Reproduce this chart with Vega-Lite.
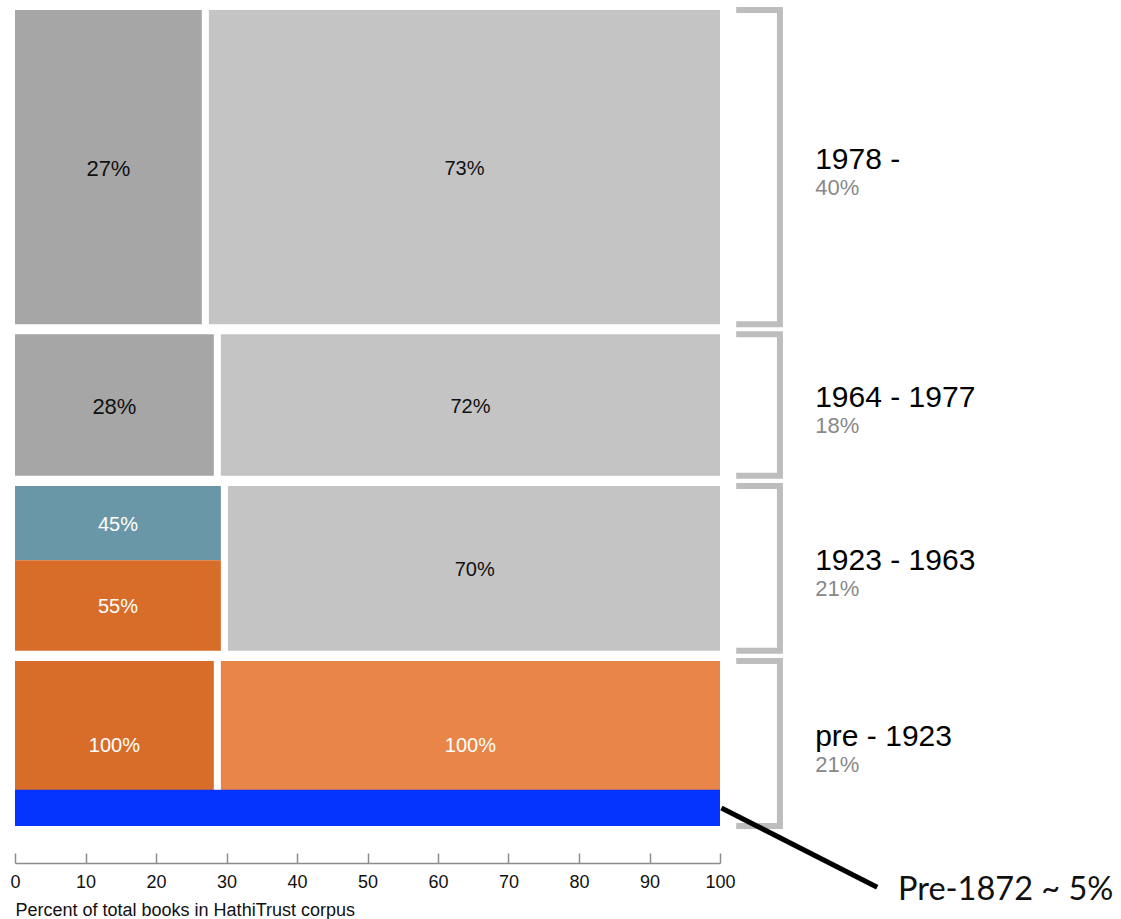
{
  "$schema": "https://vega.github.io/schema/vega-lite/v6.json",
  "autosize": "none",
  "padding": {"left": 15, "top": 10, "right": 401, "bottom": 93},
  "width": 705,
  "height": 816,
  "background": "white",
  "config": {"view": {"stroke": null}, "font": "Liberation Sans"},
  "datasets": {
    "cells": [
      {"period": "1978 -", "kind": "in copyright A", "x0": 0, "x1": 26.5, "y0": 63.9, "y1": 103.9, "label": "27%", "lx": 13.25, "ly": 83.9},
      {"period": "1978 -", "kind": "in copyright B", "x0": 27.5, "x1": 100, "y0": 63.9, "y1": 103.9, "label": "73%", "lx": 63.75, "ly": 83.9},
      {"period": "1964 - 1977", "kind": "in copyright A", "x0": 0, "x1": 28.2, "y0": 44.6, "y1": 62.6, "label": "28%", "lx": 14.1, "ly": 53.6},
      {"period": "1964 - 1977", "kind": "in copyright B", "x0": 29.2, "x1": 100, "y0": 44.6, "y1": 62.6, "label": "72%", "lx": 64.6, "ly": 53.6},
      {"period": "1923 - 1963", "kind": "not renewed", "x0": 0, "x1": 29.2, "y0": 33.85, "y1": 43.3, "label": "45%", "lx": 14.6, "ly": 38.6},
      {"period": "1923 - 1963", "kind": "public domain", "x0": 0, "x1": 29.2, "y0": 22.3, "y1": 33.85, "label": "55%", "lx": 14.6, "ly": 28.1},
      {"period": "1923 - 1963", "kind": "in copyright B", "x0": 30.2, "x1": 100, "y0": 22.3, "y1": 43.3, "label": "70%", "lx": 65.2, "ly": 32.8},
      {"period": "pre - 1923", "kind": "public domain", "x0": 0, "x1": 28.2, "y0": 0, "y1": 21, "label": "100%", "lx": 14.1, "ly": 10.5},
      {"period": "pre - 1923", "kind": "public domain B", "x0": 29.2, "x1": 100, "y0": 0, "y1": 21, "label": "100%", "lx": 64.6, "ly": 10.5},
      {"period": "pre - 1923", "kind": "pre-1872", "x0": 0, "x1": 100, "y0": 0, "y1": 4.6, "label": "", "lx": 50, "ly": 2.3}
    ],
    "periods": [
      {"period": "1978 -", "share": "40%", "ly": 83.9},
      {"period": "1964 - 1977", "share": "18%", "ly": 53.6},
      {"period": "1923 - 1963", "share": "21%", "ly": 32.8},
      {"period": "pre - 1923", "share": "21%", "ly": 10.5}
    ],
    "brackets": [
      {"period": "1978 -", "o": 1, "bx": 102.3, "by": 103.9},
      {"period": "1978 -", "o": 2, "bx": 108.5, "by": 103.9},
      {"period": "1978 -", "o": 3, "bx": 108.5, "by": 63.9},
      {"period": "1978 -", "o": 4, "bx": 102.3, "by": 63.9},
      {"period": "1964 - 1977", "o": 1, "bx": 102.3, "by": 62.6},
      {"period": "1964 - 1977", "o": 2, "bx": 108.5, "by": 62.6},
      {"period": "1964 - 1977", "o": 3, "bx": 108.5, "by": 44.6},
      {"period": "1964 - 1977", "o": 4, "bx": 102.3, "by": 44.6},
      {"period": "1923 - 1963", "o": 1, "bx": 102.3, "by": 43.3},
      {"period": "1923 - 1963", "o": 2, "bx": 108.5, "by": 43.3},
      {"period": "1923 - 1963", "o": 3, "bx": 108.5, "by": 22.3},
      {"period": "1923 - 1963", "o": 4, "bx": 102.3, "by": 22.3},
      {"period": "pre - 1923", "o": 1, "bx": 102.3, "by": 21},
      {"period": "pre - 1923", "o": 2, "bx": 108.5, "by": 21},
      {"period": "pre - 1923", "o": 3, "bx": 108.5, "by": 0},
      {"period": "pre - 1923", "o": 4, "bx": 102.3, "by": 0}
    ],
    "pointer": [
      {"o": 1, "px": 100.2, "py": 2.3},
      {"o": 2, "px": 122.3, "py": -7.8}
    ]
  },
  "layer": [
    {
      "data": {"name": "cells"},
      "mark": {"type": "rect"},
      "encoding": {
        "x": {"field": "x0", "type": "quantitative", "scale": {"domain": [0, 100], "nice": false},
          "axis": {
            "values": [0, 10, 20, 30, 40, 50, 60, 70, 80, 90, 100],
            "offset": 37, "grid": false,
            "domainColor": "#8c8c8c", "domainWidth": 1.5,
            "tickColor": "#8c8c8c", "tickWidth": 1.5, "tickSize": -10,
            "labelFont": "Liberation Sans", "labelFontSize": 18, "labelColor": "#111", "labelPadding": 20,
            "labelFlush": false,
            "title": "Percent of total books in HathiTrust corpus",
            "titleFont": "Liberation Sans", "titleFontSize": 18, "titleFontWeight": "normal", "titleColor": "#111",
            "titleAnchor": "start", "titleAlign": "left", "titleX": 0, "titleY": 52, "titleBaseline": "alphabetic"
          }},
        "x2": {"field": "x1"},
        "y": {"field": "y0", "type": "quantitative", "scale": {"domain": [0, 103.9], "nice": false}, "axis": null},
        "y2": {"field": "y1"},
        "color": {"field": "kind", "type": "nominal", "legend": null,
          "scale": {"domain": ["in copyright A", "in copyright B", "not renewed", "public domain", "public domain B", "pre-1872"],
            "range": ["#a6a6a6", "#c4c4c4", "#6a97a7", "#d86d2a", "#e98548", "#0433ff"]}}
      }
    },
    {
      "data": {"name": "cells"},
      "transform": [{"filter": "datum.kind === 'in copyright A'"}],
      "mark": {"type": "text", "font": "Liberation Sans", "fontSize": 22, "color": "#111", "baseline": "middle", "dy": 2},
      "encoding": {
        "x": {"field": "lx", "type": "quantitative"},
        "y": {"field": "ly", "type": "quantitative"},
        "text": {"field": "label"}
      }
    },
    {
      "data": {"name": "cells"},
      "transform": [{"filter": "datum.kind === 'in copyright B'"}],
      "mark": {"type": "text", "font": "Liberation Sans", "fontSize": 20, "color": "#111", "baseline": "middle", "dy": 2},
      "encoding": {
        "x": {"field": "lx", "type": "quantitative"},
        "y": {"field": "ly", "type": "quantitative"},
        "text": {"field": "label"}
      }
    },
    {
      "data": {"name": "cells"},
      "transform": [{"filter": "datum.kind !== 'in copyright A' && datum.kind !== 'in copyright B'"}],
      "mark": {"type": "text", "font": "Liberation Sans", "fontSize": 20, "color": "white", "baseline": "middle", "dy": 2},
      "encoding": {
        "x": {"field": "lx", "type": "quantitative"},
        "y": {"field": "ly", "type": "quantitative"},
        "text": {"field": "label"}
      }
    },
    {
      "data": {"name": "brackets"},
      "mark": {"type": "line", "color": "#bdbdbd", "strokeWidth": 6, "strokeJoin": "miter", "strokeCap": "butt"},
      "encoding": {
        "x": {"field": "bx", "type": "quantitative"},
        "y": {"field": "by", "type": "quantitative"},
        "detail": {"field": "period"},
        "order": {"field": "o"}
      }
    },
    {
      "data": {"name": "periods"},
      "mark": {"type": "text", "font": "Liberation Sans", "fontSize": 30, "color": "#000", "align": "left", "baseline": "alphabetic", "dy": 2},
      "encoding": {
        "x": {"datum": 113.5},
        "y": {"field": "ly", "type": "quantitative"},
        "text": {"field": "period"}
      }
    },
    {
      "data": {"name": "periods"},
      "mark": {"type": "text", "font": "Liberation Sans", "fontSize": 22, "color": "#888888", "align": "left", "baseline": "alphabetic", "dy": 28},
      "encoding": {
        "x": {"datum": 113.5},
        "y": {"field": "ly", "type": "quantitative"},
        "text": {"field": "share"}
      }
    },
    {
      "data": {"name": "pointer"},
      "mark": {"type": "line", "color": "#000", "strokeWidth": 5},
      "encoding": {
        "x": {"field": "px", "type": "quantitative"},
        "y": {"field": "py", "type": "quantitative"},
        "order": {"field": "o"}
      }
    },
    {
      "data": {"values": [{"note": "Pre-1872 ~ 5%"}]},
      "mark": {"type": "text", "font": "Lato", "fontSize": 32.5, "color": "#111", "align": "left", "baseline": "alphabetic"},
      "encoding": {
        "x": {"datum": 125.25},
        "y": {"datum": -9.42},
        "text": {"field": "note"}
      }
    }
  ]
}
